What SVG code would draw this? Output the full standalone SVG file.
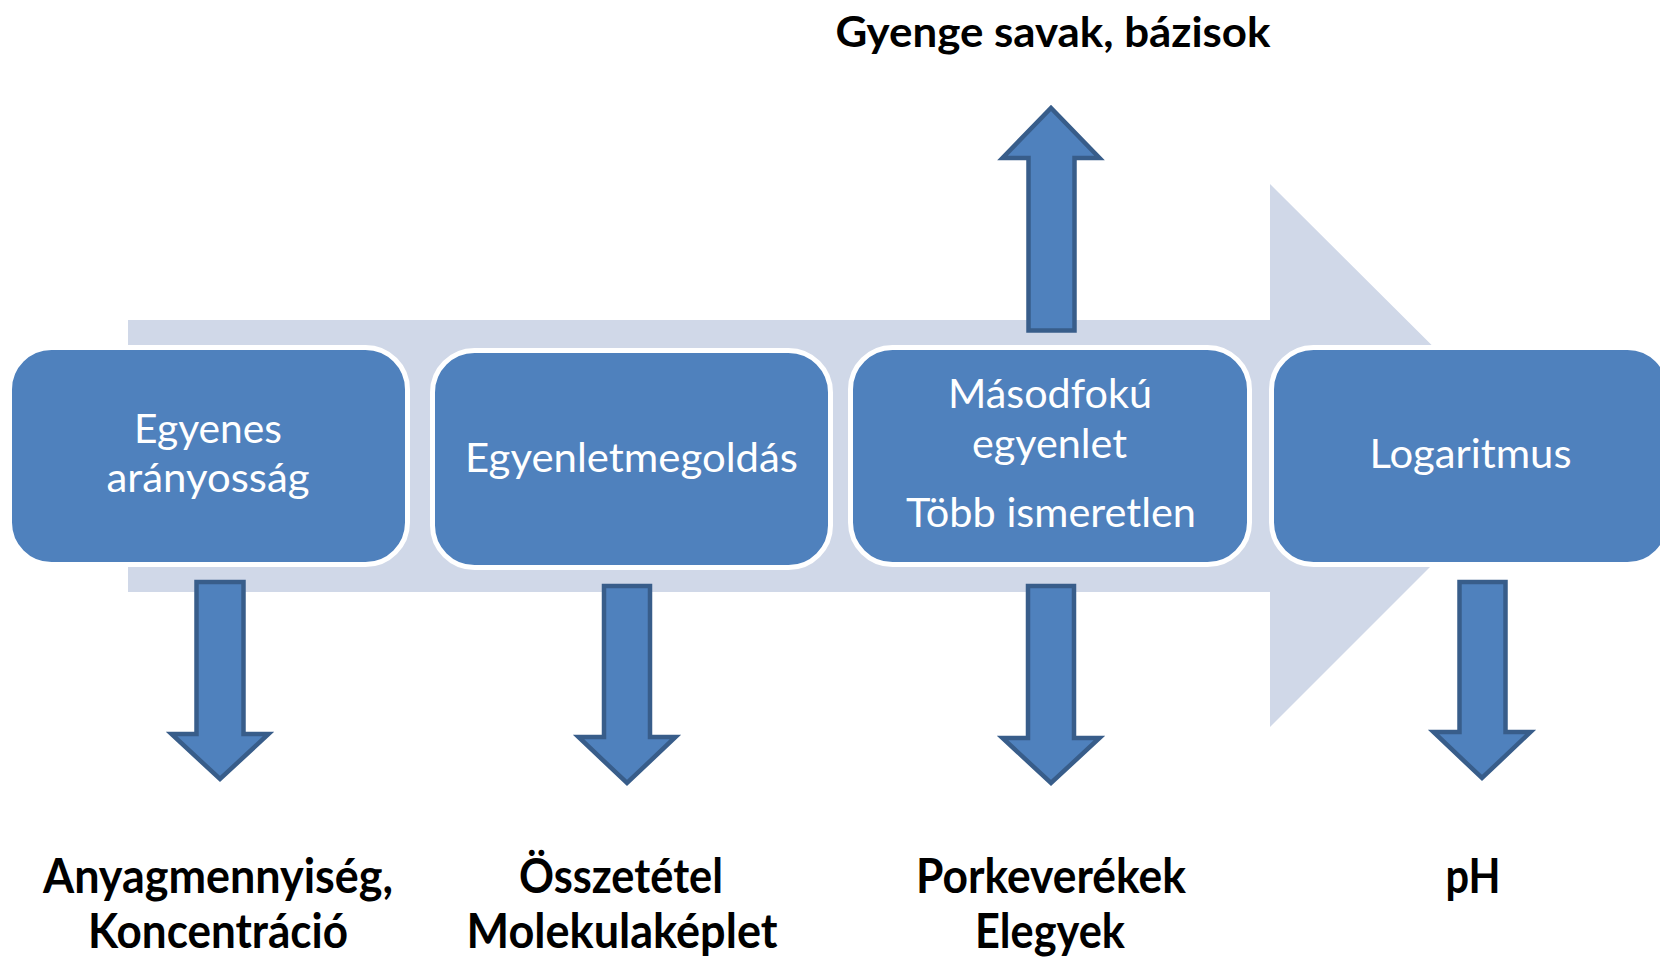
<svg xmlns="http://www.w3.org/2000/svg" width="1660" height="958" viewBox="0 0 1660 958">
<style>
.box{fill:#4F81BD;stroke:#FFFFFF;stroke-width:5}
.arr{fill:#4F81BD;stroke:#385D8A;stroke-width:4.5;stroke-linejoin:miter}
.bt{font-family:Lato,"Liberation Sans",sans-serif;font-size:40px;fill:#FFFFFF;text-anchor:middle}
.lt{font-family:Lato,"Liberation Sans",sans-serif;font-weight:bold;font-size:48px;fill:#000000;text-anchor:middle}
.tt{font-family:Lato,"Liberation Sans",sans-serif;font-weight:bold;font-size:42px;fill:#000000;text-anchor:middle}
</style>
<rect width="1660" height="958" fill="#FFFFFF"/>
<g id="backbone">
<polygon points="128,320 1270,320 1270,184 1542,455 1270,727 1270,592 128,592" fill="#D0D8E8"/>
</g>
<g id="connectors">
<path class="arr" d="M1028.5,330.5 V158 H1002.5 L1051,108 L1099.5,158 H1074.5 V330.5 Z"/>
<path class="arr" d="M196.5,582 H243.5 V734 H268.5 L220,779 L171.5,734 H196.5 Z"/>
<path class="arr" d="M604,586 H650 V737 H675.5 L627,783 L578.5,737 H604 Z"/>
<path class="arr" d="M1028,586 H1074 V738 H1099.5 L1051,783 L1002.5,738 H1028 Z"/>
<path class="arr" d="M1459.5,582 H1505.5 V732 H1530.5 L1482,778 L1433.5,732 H1459.5 Z"/>
</g>
<g id="node1">
<rect class="box" x="9.5" y="347.5" width="398" height="217" rx="42"/>
<text class="bt" x="208" y="443" textLength="148" lengthAdjust="spacingAndGlyphs">Egyenes</text>
<text class="bt" x="208" y="492" textLength="203" lengthAdjust="spacingAndGlyphs">arányosság</text>
</g>
<g id="node2">
<rect class="box" x="432.5" y="350.5" width="398" height="217" rx="42"/>
<text class="bt" x="631.5" y="472" textLength="333" lengthAdjust="spacingAndGlyphs">Egyenletmegoldás</text>
</g>
<g id="node3">
<rect class="box" x="850.5" y="347.5" width="399" height="217" rx="42"/>
<text class="bt" x="1050" y="408" textLength="204" lengthAdjust="spacingAndGlyphs">Másodfokú</text>
<text class="bt" x="1049.5" y="458" textLength="155" lengthAdjust="spacingAndGlyphs">egyenlet</text>
<text class="bt" x="1051" y="527" textLength="290" lengthAdjust="spacingAndGlyphs">Több ismeretlen</text>
</g>
<g id="node4">
<rect class="box" x="1271.5" y="347.5" width="398" height="217" rx="42"/>
<text class="bt" x="1470.5" y="468" textLength="202" lengthAdjust="spacingAndGlyphs">Logaritmus</text>
</g>
<g id="label-top">
<text class="tt" x="1053" y="47" textLength="435" lengthAdjust="spacingAndGlyphs">Gyenge savak, bázisok</text>
</g>
<g id="label1">
<text class="lt" x="218" y="893" textLength="350" lengthAdjust="spacingAndGlyphs">Anyagmennyiség,</text>
<text class="lt" x="218" y="948" textLength="260" lengthAdjust="spacingAndGlyphs">Koncentráció</text>
</g>
<g id="label2">
<text class="lt" x="621" y="893" textLength="204" lengthAdjust="spacingAndGlyphs">Összetétel</text>
<text class="lt" x="622" y="948" textLength="311" lengthAdjust="spacingAndGlyphs">Molekulaképlet</text>
</g>
<g id="label3">
<text class="lt" x="1051" y="893" textLength="270" lengthAdjust="spacingAndGlyphs">Porkeverékek</text>
<text class="lt" x="1050" y="948" textLength="150" lengthAdjust="spacingAndGlyphs">Elegyek</text>
</g>
<g id="label4">
<text class="lt" x="1473" y="893" textLength="55" lengthAdjust="spacingAndGlyphs">pH</text>
</g>
</svg>
